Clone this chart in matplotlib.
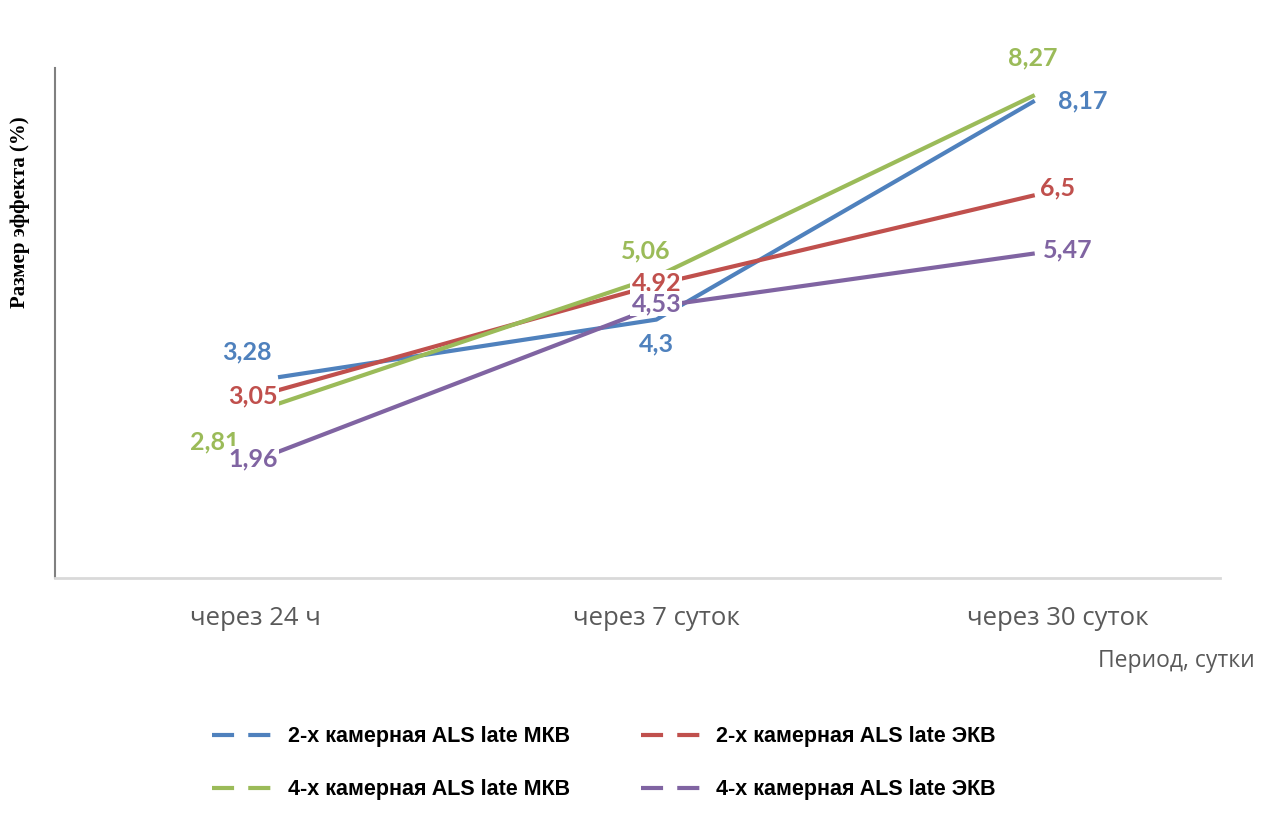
import matplotlib
matplotlib.use('Agg')
import matplotlib.pyplot as plt
from matplotlib.lines import Line2D

# Data
periods = ['через 24 ч', 'через 7 суток', 'через 30 суток']
series_names = ['2-х камерная ALS late МКВ', '2-х камерная ALS late ЭКВ',
                '4-х камерная ALS late МКВ', '4-х камерная ALS late ЭКВ']
mkv_2 = [3.28, 4.3, 8.17]
ekv_2 = [3.05, 4.92, 6.5]
mkv_4 = [2.81, 5.06, 8.27]
ekv_4 = [1.96, 4.53, 5.47]

colors = ['#4f81bd', '#c0504d', '#9bbb59', '#8064a2']
# label offsets in pixels (dx, dy) for each point of each series
label_offsets = [
    [(-31, 25), (0, -24), (48, 0)],
    [(-25, -6), (0, 2), (23, 7)],
    [(-63, -38), (-11, 26), (-2, 37)],
    [(-25, -7), (0, 3), (33, 4)],
]
# category labels sit a bit outside the outer points in the original
tick_shift = [-0.06, 0.0, 0.06]

fig = plt.figure(figsize=(12.83, 8.16), dpi=100)
ax = fig.add_axes([0.043, 0.2917, 0.908, 0.625])

x = list(range(len(periods)))
all_series = [mkv_2, ekv_2, mkv_4, ekv_4]
for vals, col in zip(all_series, colors):
    ax.plot(x, vals, color=col, lw=3, solid_capstyle='butt', zorder=2)

for vals, col, offs in zip(all_series, colors, label_offsets):
    for xi, v, (dx, dy) in zip(x, vals, offs):
        ax.annotate(f'{v:g}'.replace('.', ','), (xi, v), xytext=(dx, dy),
                    textcoords='offset pixels', ha='center', va='center',
                    fontsize=18, fontweight='bold', color=col, family='Lato',
                    bbox=dict(boxstyle='square,pad=0.05', fc='white', ec='none'),
                    zorder=3)

ax.set_xlim(-0.589, 2.49)
ax.set_ylim(-0.27, 8.75)
ax.set_xticks([xi + d for xi, d in zip(x, tick_shift)])
ax.set_xticklabels(periods, fontsize=18.5, color='#595959', family='Open Sans')
ax.tick_params(axis='x', length=0, pad=20)
ax.set_yticks([])
for s in ['top', 'right']:
    ax.spines[s].set_visible(False)
ax.spines['left'].set_color('#808080')
ax.spines['left'].set_linewidth(1.5)
ax.spines['bottom'].set_color('#d9d9d9')
ax.spines['bottom'].set_linewidth(2)

fig.text(0.978, 0.19, 'Период, сутки', ha='right', va='center', fontsize=16.5,
         color='#595959', family='Open Sans')
fig.text(0.0156, 0.74, 'Размер эффекта (%)', rotation=90, ha='center', va='center',
         fontsize=15, fontweight='bold', family='Liberation Serif')

# row-wise legend order
order = [0, 2, 1, 3]
handles = [Line2D([], [], color=colors[i], lw=3, linestyle=(0, (5.3, 3.4)))
           for i in order]
labels = [series_names[i] for i in order]
fig.legend(handles, labels, loc='lower left', bbox_to_anchor=(0.157, 0.006),
           ncol=2, frameon=False, handlelength=2.9, handletextpad=0.6,
           columnspacing=3.3, labelspacing=1.5, borderpad=0,
           prop={'family': 'Liberation Sans', 'weight': 'bold', 'size': 15.5})

fig.savefig('out.png', dpi=100, facecolor='white')
